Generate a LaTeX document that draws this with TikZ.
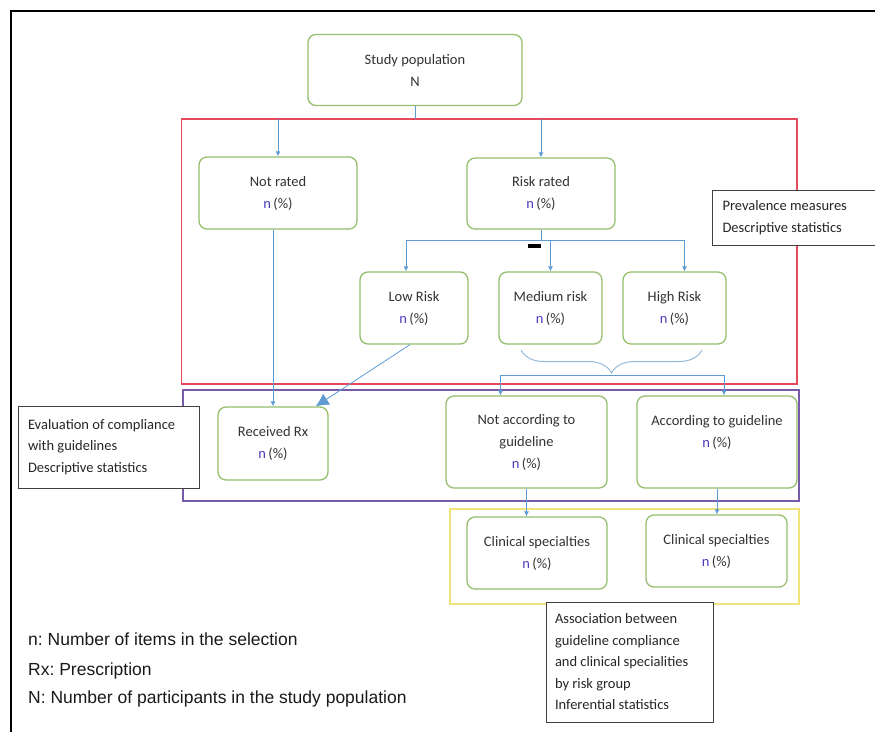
\documentclass[tikz,border=0pt]{standalone}
\usepackage{fontspec}
\setmainfont{Carlito}
\newfontfamily\legendfont{Liberation Sans}
\usepackage{xcolor}
\usetikzlibrary{arrows.meta}
\usetikzlibrary{decorations.pathreplacing}
\definecolor{boxgreen}{RGB}{150,190,110}
\definecolor{flowblue}{RGB}{95,155,210}
\definecolor{braceblue}{RGB}{150,185,215}
\definecolor{framered}{RGB}{228,72,90}
\definecolor{framepurple}{RGB}{118,92,168}
\definecolor{frameyellow}{RGB}{240,228,120}
\definecolor{nviolet}{RGB}{75,60,190}
\newcommand{\npct}{\textcolor{nviolet}{n}\,(\%)}
\frenchspacing

\begin{document}
\begin{tikzpicture}[x=1pt, y=-1pt,
	stepbox/.style={draw=boxgreen, line width=1.3pt, rounded corners=8pt, fill=white, align=center, inner sep=0pt, text=black!80, font=\fontsize{14.5}{22}\selectfont},
	notebox/.style={draw=black!75, line width=1pt, fill=white, align=flush left, inner xsep=10pt, inner ysep=0pt, text=black!85, font=\fontsize{14.5}{21.5}\selectfont},
	legend/.style={inner sep=0pt, text=black!90, font=\legendfont\fontsize{17.5}{20}\selectfont},
	flow/.style={draw=flowblue, line width=0.8pt, -{Latex[length=5pt, width=5pt]}},
	link/.style={draw=flowblue, line width=0.8pt},
	stage/.style={line width=1.3pt}]
					\useasboundingbox (0,0) rectangle (875,731);
					% draw frame
					\draw[line width=2pt] (11,740) -- (11,11) -- (880,11);
					\draw[framered, stage] (181.5,119) rectangle (797,384);
					\draw[framepurple, stage] (183,390) rectangle (799,501);
					\draw[frameyellow, stage] (450,509) rectangle (799,604);
					\coordinate (redtop) at (0,119);
					
					% draw boxes
					\node[stepbox, minimum width=214pt, minimum height=71pt] (study) at (415,70) {Study population\\N};
					\node[stepbox, minimum width=158pt, minimum height=72pt] (notrated) at (278,193) {Not rated\\\npct};
					\node[stepbox, minimum width=148pt, minimum height=71pt] (riskrated) at (541,193.5) {Risk rated\\\npct};
					\node[stepbox, minimum width=108pt, minimum height=72pt] (lowrisk) at (414,308) {Low Risk\\\npct};
					\node[stepbox, minimum width=103pt, minimum height=72pt] (medrisk) at (550.5,308) {Medium risk\\\npct};
					\node[stepbox, minimum width=103pt, minimum height=72pt] (highrisk) at (674.5,308) {High Risk\\\npct};
					\node[stepbox, minimum width=110pt, minimum height=73pt] (received) at (273,443.5) {Received Rx\\\npct};
					\node[stepbox, minimum width=161pt, minimum height=92pt] (notacc) at (526.5,442) {Not according to\\guideline\\\npct};
					\node[stepbox, minimum width=160pt, minimum height=92pt] (acc) at (717,442) {According to guideline\\\npct\\\mbox{}};
					\node[stepbox, minimum width=140pt, minimum height=72pt] (clinnot) at (537,553) {Clinical specialties\\\npct};
					\node[stepbox, minimum width=141pt, minimum height=72pt] (clinacc) at (716.5,551) {Clinical specialties\\\npct};
					
					% draw notes
					\node[notebox, anchor=west, text width=150pt, minimum height=55pt] (prevnote) at (712,217.5) {Prevalence measures\\Descriptive statistics};
					\node[notebox, text width=161pt, minimum height=82pt] (evalnote) at (108.5,447) {Evaluation of compliance\\with guidelines\\Descriptive statistics};
					\node[notebox, inner xsep=9pt, text width=149pt, minimum height=120pt] (assocnote) at (629.5,662) {Association between\\guideline compliance\\and clinical specialities\\by risk group\\Inferential statistics};
					
					% add arrows
					\draw[link] (study.south) -- (study.south |- redtop);
					\draw[flow] (notrated.north |- redtop) -- (notrated.north);
					\draw[flow] (riskrated.north |- redtop) -- (riskrated.north);
					\draw[link] (riskrated.south) -- ++(0,11) coordinate (risksplit);
					\draw[flow] (risksplit) -| ([xshift=-8pt]lowrisk.north);
					\draw[flow] (risksplit -| medrisk.north) -- (medrisk.north);
					\draw[flow] (risksplit) -| ([xshift=10pt]highrisk.north);
					\fill[black] (528,244) rectangle (541,247.5);
					\draw[flow] (notrated.south -| received.north) -- (received.north);
					\draw[flow, -{Latex[length=13pt, width=13pt]}] ([xshift=-4pt]lowrisk.south) -- ([xshift=-13pt]received.north east);
					\draw[braceblue, line width=1pt, decorate, decoration={brace, mirror, amplitude=23pt}] (521,350) -- (702,350);
					\coordinate (guidesplit) at (610,375);
					\draw[flow] (guidesplit) -| ([xshift=-26pt]notacc.north);
					\draw[flow] (guidesplit) -| ([xshift=7pt]acc.north);
					\draw[flow] (notacc.south) -- (notacc.south |- clinnot.north);
					\draw[flow] (acc.south) -- (acc.south |- clinacc.north);
					
					% add legend
					\node[legend, anchor=west] (keysmalln) at (28,639) {n: Number of items in the selection};
					\node[legend, anchor=west] (keyrx) at (28,671) {Rx: Prescription};
					\node[legend, anchor=west] (keybign) at (28,699) {N: Number of participants in the study population};
				\end{tikzpicture}
\end{document}
